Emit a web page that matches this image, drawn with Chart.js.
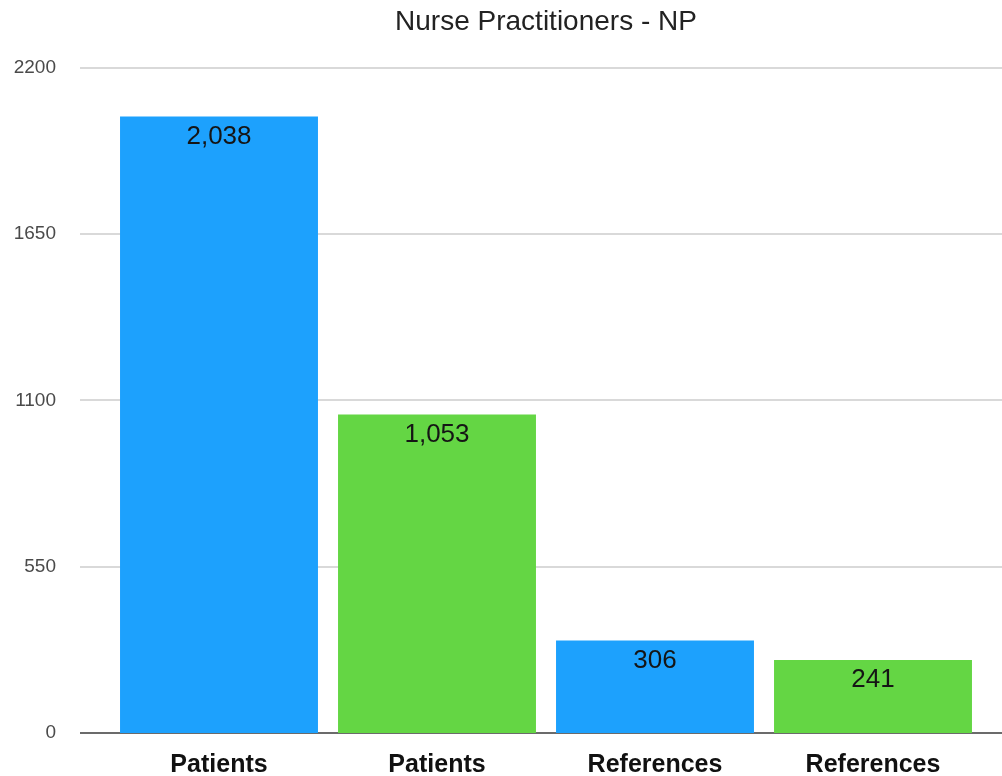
<!DOCTYPE html>
<html>
<head>
<meta charset="utf-8">
<script src="https://cdn.jsdelivr.net/npm/chart.js@4.4.0/dist/chart.umd.min.js"></script>
<style>
  html, body { margin: 0; padding: 0; background: #fff; overflow: hidden; }
  canvas { display: block; }
</style>
</head>
<body>
<canvas id="npChart" width="1002" height="776"></canvas>
<script>
const categories = ['Patients', 'Patients', 'References', 'References'];
const values = [2038, 1053, 306, 241];
const barColors = ['#1da1fd', '#64d644', '#1da1fd', '#64d644'];
const yTicks = [0, 550, 1100, 1650, 2200];

// grid lines run wider than the bar area, so draw them by hand from the y scale
const gridPlugin = {
  id: 'wideGrid',
  beforeDatasetsDraw(chart) {
    const ctx = chart.ctx;
    const y = chart.scales.y;
    ctx.save();
    yTicks.forEach(v => {
      const py = Math.round(y.getPixelForValue(v));
      ctx.beginPath();
      ctx.strokeStyle = v === 0 ? '#3a3a3a' : '#cdcdcd';
      ctx.lineWidth = v === 0 ? 1.6 : 1.5;
      ctx.moveTo(80, py);
      ctx.lineTo(chart.width, py);
      ctx.stroke();
    });
    ctx.restore();
  }
};

const valueLabels = {
  id: 'valueLabels',
  afterDatasetsDraw(chart) {
    const ctx = chart.ctx;
    const meta = chart.getDatasetMeta(0);
    ctx.save();
    ctx.font = '26px "Liberation Sans", Arial, sans-serif';
    ctx.fillStyle = '#151515';
    ctx.textAlign = 'center';
    ctx.textBaseline = 'middle';
    meta.data.forEach((bar, i) => {
      ctx.fillText(values[i].toLocaleString('en-US'), bar.x, bar.y + 20);
    });
    ctx.restore();
  }
};

new Chart(document.getElementById('npChart'), {
  type: 'bar',
  data: {
    labels: categories,
    datasets: [{
      data: values,
      backgroundColor: barColors,
      borderWidth: 0,
      barPercentage: 0.908,
      categoryPercentage: 1
    }]
  },
  options: {
    responsive: false,
    animation: false,
    layout: { padding: { left: 0, right: 20, top: 0, bottom: 0 } },
    plugins: {
      legend: { display: false },
      tooltip: { enabled: false },
      title: {
        display: true,
        fullSize: false,
        text: 'Nurse Practitioners - NP',
        color: '#222',
        font: { family: '"Liberation Sans", Arial, sans-serif', size: 28, weight: 'normal' },
        padding: { top: 5, bottom: 29 }
      }
    },
    scales: {
      x: {
        grid: { display: false, drawTicks: false },
        border: { display: false },
        ticks: {
          color: '#111',
          padding: 17,
          font: { family: '"Liberation Sans", Arial, sans-serif', size: 25, weight: 'bold' }
        },
        afterFit(scale) { scale.height = 43; }
      },
      y: {
        min: 0,
        max: 2200,
        grid: { display: false, drawTicks: false },
        border: { display: false },
        ticks: {
          stepSize: 550,
          color: '#4a4a4a',
          padding: 54,
          font: { family: '"Liberation Sans", Arial, sans-serif', size: 19 },
          callback: v => String(v)
        },
        afterFit(scale) {
          scale.width = 110;
          // the big label gap should not eat into the plot height
          scale.paddingTop = 0;
          scale.paddingBottom = 0;
        }
      }
    }
  },
  plugins: [gridPlugin, valueLabels]
});
</script>
</body>
</html>
